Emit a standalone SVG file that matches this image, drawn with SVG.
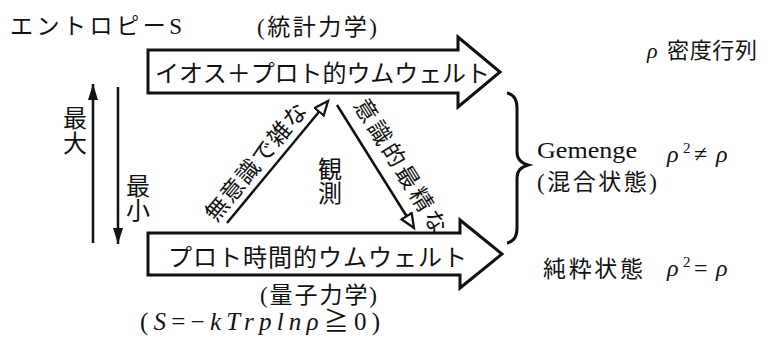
<svg xmlns="http://www.w3.org/2000/svg" width="769" height="354" viewBox="0 0 769 354">
<style>
.t{font-family:"Liberation Serif","Noto Sans CJK JP",serif;fill:#111;}
.jp{font-size:23px;}
.box{fill:#fff;stroke:#111;stroke-width:3;stroke-linejoin:miter;}
.ln{stroke:#111;stroke-width:2.5;fill:none;}
.it{font-style:italic;}
</style>
<defs>
<marker id="open" markerUnits="userSpaceOnUse" markerWidth="18" markerHeight="16" refX="15" refY="7" orient="auto">
<path d="M1,1 L15,7 L1,13 z" fill="#fff" stroke="#111" stroke-width="2.3"/>
</marker>
<marker id="fill" markerUnits="userSpaceOnUse" markerWidth="18" markerHeight="12" refX="16" refY="5" orient="auto">
<path d="M0,0 L16,5 L0,10 z" fill="#111"/>
</marker>
</defs>
<rect width="769" height="354" fill="#fff"/>

<g id="title">
<text class="t jp" x="10" y="34" textLength="172" lengthAdjust="spacing">エントロピーS</text>
</g>
<g id="stat-label">
<text class="t jp" x="257" y="35" textLength="120" lengthAdjust="spacing">(統計力学)</text>
</g>
<g id="rho-def">
<text class="t" x="647" y="58" font-size="22"><tspan class="it">ρ</tspan><tspan x="667" textLength="90" lengthAdjust="spacing">密度行列</tspan></text>
</g>

<g id="top-arrow">
<polygon class="box" points="148,50 458,50 458,37 500,72 458,107 458,93 148,93"/>
<text class="t" font-size="24" x="155" y="82" textLength="335" lengthAdjust="spacing">イオス＋プロト的ウムウェルト</text>
</g>

<g id="bottom-arrow">
<polygon class="box" points="148,233 460,233 460,220 502,254 460,288 460,275 148,275"/>
<text class="t" font-size="24" x="168" y="266" textLength="299" lengthAdjust="spacing">プロト時間的ウムウェルト</text>
</g>

<g id="qm-label">
<text class="t jp" x="260" y="303" textLength="117" lengthAdjust="spacing">(量子力学)</text>
</g>
<g id="formula">
<text class="t" font-size="25" x="140" y="330" textLength="240" lengthAdjust="spacing">(<tspan class="it">S</tspan>=−<tspan class="it">kTrplnρ</tspan>≧0)</text>
</g>

<g id="max-label">
<text class="t" font-size="24" x="75" y="127" text-anchor="middle">最</text>
<text class="t" font-size="24" x="75" y="152" text-anchor="middle">大</text>
</g>
<g id="min-label">
<text class="t" font-size="24" x="138" y="195" text-anchor="middle">最</text>
<text class="t" font-size="24" x="138" y="219" text-anchor="middle">小</text>
</g>
<g id="observe">
<text class="t" font-size="24" x="330" y="178" text-anchor="middle">観</text>
<text class="t" font-size="24" x="330" y="202" text-anchor="middle">測</text>
</g>

<g id="mixed">
<path d="M507,93 Q517,95 517,108 L517,152 Q517,162 528,165 Q517,168 517,178 L517,228 Q517,241 507,243" fill="none" stroke="#111" stroke-width="3"/>
<text class="t" font-size="24" x="537" y="158" textLength="100" lengthAdjust="spacingAndGlyphs">Gemenge</text>
<text class="t" font-size="23" x="537" y="190" textLength="120" lengthAdjust="spacing">(混合状態)</text>
<text class="t" font-size="24" y="162"><tspan class="it" x="667">ρ</tspan><tspan x="683" dy="-9" font-size="15">2</tspan><tspan x="694" dy="9">≠</tspan><tspan class="it" x="716">ρ</tspan></text>
</g>
<g id="pure">
<text class="t" font-size="23" x="543" y="277" textLength="100" lengthAdjust="spacing">純粋状態</text>
<text class="t" font-size="24" y="276"><tspan class="it" x="667">ρ</tspan><tspan x="683" dy="-9" font-size="15">2</tspan><tspan x="694" dy="9">=</tspan><tspan class="it" x="716">ρ</tspan></text>
</g>

<g id="connectors">
<line class="ln" x1="93" y1="243" x2="93" y2="84" marker-end="url(#fill)"/>
<line class="ln" x1="118" y1="87" x2="118" y2="244" marker-end="url(#fill)"/>
<line class="ln" x1="227" y1="223" x2="328" y2="101" marker-end="url(#open)"/>
<line class="ln" x1="337" y1="105" x2="414" y2="228" marker-end="url(#open)"/>
<text class="t" font-size="23" transform="translate(216,223) rotate(-50.4)" textLength="145" lengthAdjust="spacing">無意識で雑な</text>
<text class="t" font-size="23" transform="translate(353,105) rotate(58.1)" textLength="154" lengthAdjust="spacing">意識的最精な</text>
</g>
</svg>
